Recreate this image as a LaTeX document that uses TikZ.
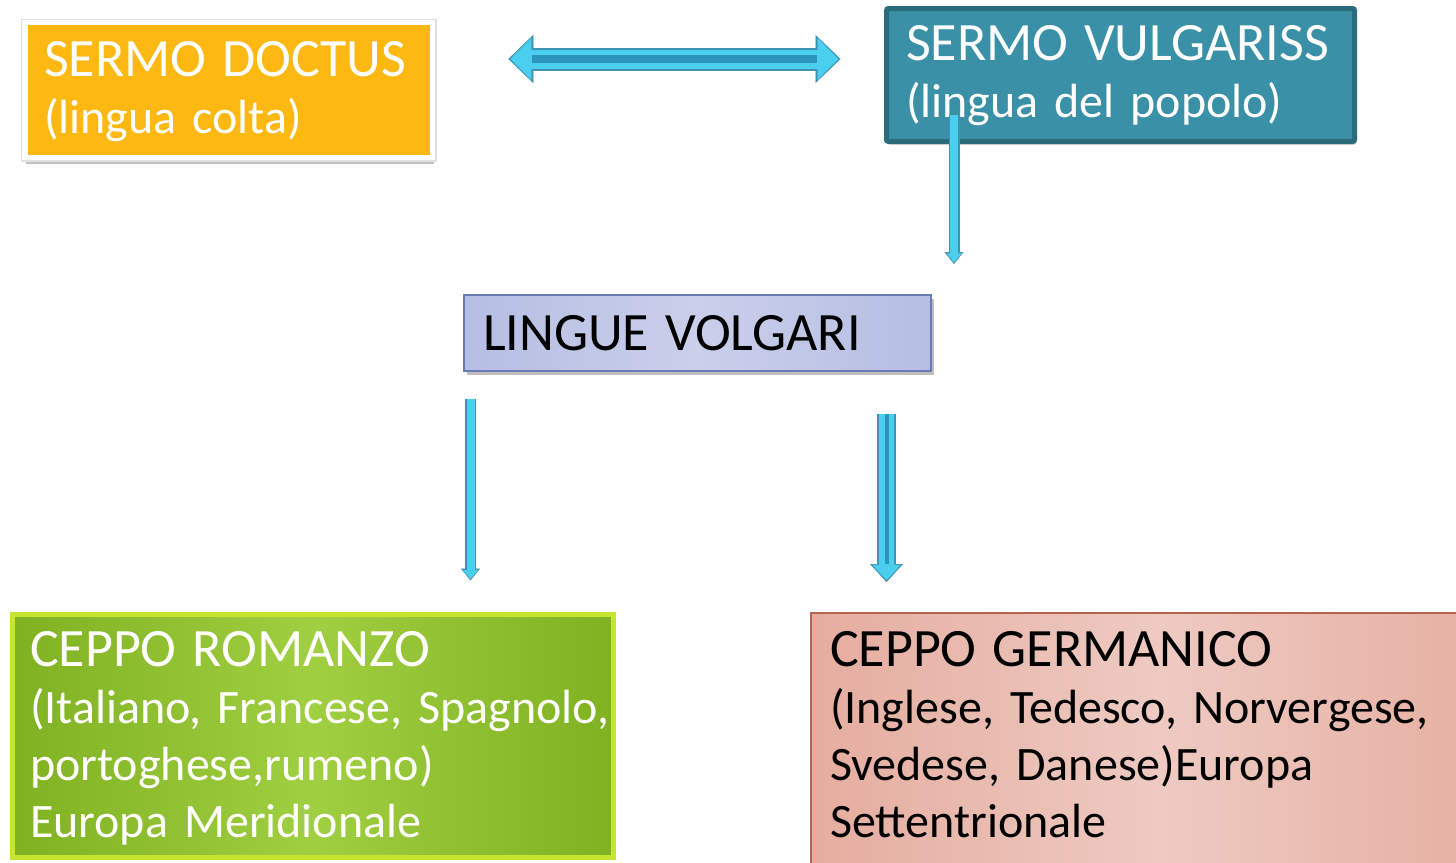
\documentclass[tikz,border=0pt]{standalone}
\usepackage{fontspec}
\setmainfont[WordSpace=0.6]{Carlito}
\usepackage{tikz}
\usetikzlibrary{
    arrows.meta,
    positioning,
    shadows
}
\definecolor{doctusorange}{HTML}{FDB912}
\definecolor{vulgteal}{HTML}{3A90A6}
\definecolor{vulgedge}{HTML}{2C6B7B}
\definecolor{lingueside}{HTML}{B5BEE3}
\definecolor{linguemid}{HTML}{CACFEA}
\definecolor{lingueedge}{HTML}{6B7BB5}
\definecolor{romanzoedge}{HTML}{C6E530}
\definecolor{romanzoside}{HTML}{7FB121}
\definecolor{romanzomid}{HTML}{A0CF42}
\definecolor{germanicoedge}{HTML}{B5654F}
\definecolor{germanicoside}{HTML}{E5AD9F}
\definecolor{germanicomid}{HTML}{EECAC2}
\definecolor{arrowcyan}{HTML}{4ACFEF}
\definecolor{arrowedge}{HTML}{3E93B3}
\definecolor{arrowcore}{HTML}{2D95BC}
\newcommand{\toppad}[1]{\rule{0pt}{#1}}
\newcommand{\botpad}[1]{\rule[-#1]{0pt}{#1}}
\newcommand{\capsline}[1]{{\fontsize{54}{57}\selectfont #1}}
\tikzset{
    box/.style={
        rectangle,
        align=left,
        inner ysep=0pt,
        font=\fontsize{48}{57}\selectfont
    },
    doctusbox/.style={
        box,
        fill=doctusorange,
        draw=white,
        line width=5.5pt,
        text=white,
        drop shadow={shadow xshift=1pt, shadow yshift=-6pt, opacity=0.35, fill=black!70},
        preaction={draw=black!12, line width=8pt}
    },
    vulgbox/.style={
        box,
        fill=vulgteal,
        draw=vulgedge,
        line width=5pt,
        rounded corners=2pt,
        text=white,
        drop shadow={shadow xshift=2pt, shadow yshift=-3pt, opacity=0.2, fill=black}
    },
    linguebox/.style={
        box,
        left color=lingueside,
        right color=lingueside,
        middle color=linguemid,
        draw=lingueedge,
        line width=2pt,
        text=black,
        drop shadow={shadow xshift=3pt, shadow yshift=-4pt, opacity=0.25, fill=black}
    },
    romanzobox/.style={
        box,
        left color=romanzoside,
        right color=romanzoside,
        middle color=romanzomid,
        draw=romanzoedge,
        line width=5pt,
        text=white
    },
    germanicobox/.style={
        box,
        left color=germanicoside,
        right color=germanicoside,
        middle color=germanicomid,
        draw=germanicoedge,
        line width=2pt,
        text=black
    },
    thinflow/.style={
        draw=arrowcyan,
        line width=8pt,
        shorten >=1.5pt,
        -{Triangle[length=9pt, width=15pt, line width=0.5pt]},
        preaction={draw=arrowedge, line width=11pt, shorten >=0pt,
            -{Triangle[length=12pt, width=19pt, line width=0.5pt]}}
    },
    thickflow/.style={
        draw=arrowcyan,
        line width=15pt,
        shorten >=2pt,
        -{Triangle[length=15pt, width=28pt, line width=0.5pt]},
        preaction={draw=arrowedge, line width=19pt, shorten >=0pt,
            -{Triangle[length=18pt, width=33pt, line width=0.5pt]}},
        postaction={draw=arrowcore, line width=4pt, shorten >=18pt, -}
    },
    wideflow/.style={
        draw=arrowcyan,
        line width=19pt,
        shorten >=2pt,
        shorten <=2pt,
        {Triangle[length=21pt, width=42pt, line width=0.5pt]}-{Triangle[length=21pt, width=42pt, line width=0.5pt]},
        preaction={draw=arrowedge, line width=23pt, shorten >=0pt, shorten <=0pt,
            {Triangle[length=25pt, width=48pt, line width=0.5pt]}-{Triangle[length=25pt, width=48pt, line width=0.5pt]}},
        postaction={draw=arrowcore, line width=8pt, shorten >=24pt, shorten <=24pt, -}
    }
}

\begin{document}
\begin{tikzpicture}[x=1pt, y=-1pt]
\useasboundingbox (0,0) rectangle (1456,862);
\clip (0,0) rectangle (1456,862);
\fill[white] (0,0) rectangle (1456,862);

\node[doctusbox, minimum width=407.5pt, minimum height=135pt, inner xsep=19pt, text width=369.5pt]
    (doctus) at (228.75,90) {\toppad{41pt}\capsline{SERMO DOCTUS}\\(lingua colta)\botpad{12pt}};
\node[vulgbox, minimum width=468pt, minimum height=133pt, inner xsep=19.5pt, text width=429pt]
    (vulg) at (1120.5,75) {\toppad{39pt}\capsline{SERMO VULGARISS}\\(lingua del popolo)\botpad{12pt}};
\node[linguebox, minimum width=467pt, minimum height=76pt, inner xsep=19pt, text width=429pt]
    (lingue) at (697.5,333) {\toppad{40pt}\capsline{LINGUE VOLGARI}\botpad{6pt}};
\node[romanzobox, minimum width=601pt, minimum height=243pt, inner xsep=17.5pt, text width=566pt]
    (romanzo) at (313,736) {\toppad{43pt}\capsline{CEPPO ROMANZO}\\\mbox{(Italiano, Francese, Spagnolo,}\\portoghese,rumeno)\\Europa Meridionale\botpad{12pt}};
\node[germanicobox, minimum width=700pt, minimum height=300pt, inner xsep=19pt, text width=662pt]
    (germanico) at (1161,763) {\toppad{35pt}\capsline{CEPPO GERMANICO}\\(Inglese, Tedesco, Norvergese,\\Svedese, Danese)Europa\\Settentrionale\botpad{58pt}};

% arrows
\draw[wideflow] ([xshift=73pt, yshift=31pt]doctus.east) -- ([xshift=-43.5pt, yshift=16pt]vulg.west);
\draw[thinflow] ([xshift=-166.5pt, yshift=29.5pt]vulg.south) -- ([xshift=256.5pt, yshift=30pt]lingue.north);
\draw[thinflow] ([xshift=-227pt, yshift=-27pt]lingue.south) -- ([xshift=157.5pt, yshift=31.5pt]romanzo.north);
\draw[thickflow] ([xshift=189pt, yshift=-42pt]lingue.south) -- ([xshift=-274.5pt, yshift=30pt]germanico.north);
\end{tikzpicture}
\end{document}
